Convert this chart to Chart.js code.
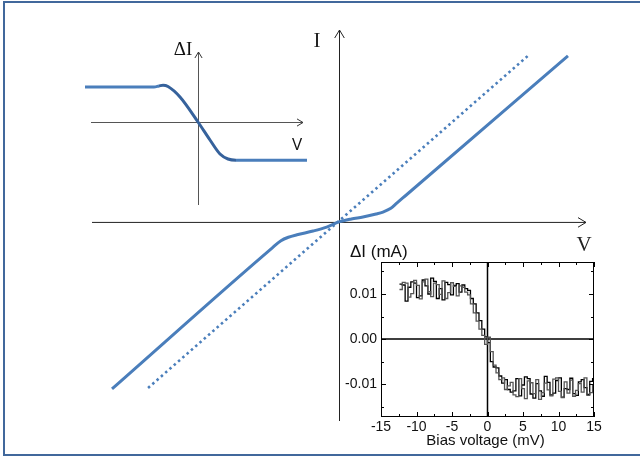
<!DOCTYPE html>
<html>
<head>
<meta charset="utf-8">
<script src="https://cdn.jsdelivr.net/npm/chart.js@4"></script>
<style>
  body { margin: 0; background: #fff; }
  #wrap { position: relative; width: 640px; height: 457px; overflow: hidden; }
  #wrap canvas { position: absolute; }
</style>
</head>
<body>
<div id="wrap">
  <canvas id="mainChart" width="640" height="457" style="left:0;top:0"></canvas>
  <canvas id="sketchChart" width="250" height="185" style="left:70px;top:30px"></canvas>
  <canvas id="dataChart" width="310" height="227" style="left:330px;top:230px"></canvas>
</div>
<script>
// I-V sketch, arbitrary units
const ivV = [-9.19, -2.7, -2.35, -2.05, -1.7, -1.05, -0.5, 0, 0.5, 0.97, 1.5, 1.78, 2.1, 2.35, 2.7, 9.27];
const ivI = [-6.76, -1.05, -0.76, -0.62, -0.52, -0.37, -0.21, 0, 0.12, 0.2, 0.32, 0.40, 0.55, 0.77, 1.07, 6.72];
const ohmicV = [-7.73, 7.69];
const ohmicI = [-6.72, 6.76];

// ΔI(V) sketch, arbitrary units
const sketchV = [-11.3, -4.4, -3.9, -3.5, -3.0, -1.8, 0, 1.2, 2.2, 3.0, 3.8, 4.9, 10.9];
const sketchI = [3.5, 3.5, 3.6, 3.68, 3.55, 2.5, 0, -1.8, -3.2, -3.7, -3.82, -3.82, -3.82];

// measured ΔI vs bias voltage (mV, mA), two sweeps
const biasV = [-12.4, -12.0, -11.6, -11.2, -10.8, -10.4, -10.0, -9.6, -9.2, -8.8, -8.4, -8.0,
  -7.6, -7.2, -6.8, -6.4, -6.0, -5.6, -5.2, -4.8, -4.4, -4.0, -3.6,
  -3.2, -2.8, -2.4, -2.0, -1.6, -1.2, -0.8, -0.4, 0.0,
  0.4, 0.8, 1.2, 1.6, 2.0, 2.4, 2.8,
  3.2, 3.6, 4.0, 4.4, 4.8, 5.2, 5.6, 6.0, 6.4, 6.8, 7.2, 7.6, 8.0, 8.4, 8.8,
  9.2, 9.6, 10.0, 10.4, 10.8, 11.2, 11.6, 12.0, 12.4, 12.8, 13.2, 13.6, 14.0, 14.4, 14.8, 15.0];
const sweepUp = [0.0122, 0.0120, 0.0084, 0.0115, 0.0127, 0.0124, 0.0092, 0.0096, 0.0131, 0.0118, 0.0100, 0.0135,
  0.0128, 0.0090, 0.0112, 0.0087, 0.0126, 0.0121, 0.0098, 0.0119, 0.0123, 0.0104, 0.0120,
  0.0112, 0.0108, 0.0090, 0.0078, 0.0058, 0.0041, 0.0022, 0.0005, -0.0008,
  -0.0050, -0.0062, -0.0064, -0.0082, -0.0098, -0.0090, -0.0112,
  -0.0118, -0.0115, -0.0088, -0.0126, -0.0102, -0.0084, -0.0088, -0.0122, -0.0131, -0.0099, -0.0115, -0.0127, -0.0083, -0.0096, -0.0124,
  -0.0120, -0.0092, -0.0086, -0.0129, -0.0110, -0.0112, -0.0087, -0.0121, -0.0125, -0.0095, -0.0090, -0.0108, -0.0123, -0.0094, -0.0088, -0.0112];
const sweepDown = [0.0110, 0.0126, 0.0124, 0.0093, 0.0101, 0.0130, 0.0119, 0.0089, 0.0127, 0.0133, 0.0105, 0.0094,
  0.0124, 0.0121, 0.0099, 0.0129, 0.0090, 0.0103, 0.0125, 0.0117, 0.0096, 0.0118, 0.0115,
  0.0104, 0.0098, 0.0078, 0.0058, 0.0040, 0.0022, 0.0008, -0.0012, 0.0004,
  -0.0028, -0.0058, -0.0075, -0.0090, -0.0086, -0.0112, -0.0104,
  -0.0096, -0.0124, -0.0128, -0.0088, -0.0110, -0.0132, -0.0093, -0.0097, -0.0121, -0.0090, -0.0134, -0.0119, -0.0098, -0.0113, -0.0126,
  -0.0089, -0.0086, -0.0116, -0.0130, -0.0095, -0.0120, -0.0091, -0.0127, -0.0114, -0.0099, -0.0118, -0.0086, -0.0125, -0.0119, -0.0101, -0.0097];

const biasTicks = [-15, -10, -5, 0, 5, 10, 15];
const biasMinor = [-12.5, -7.5, -2.5, 2.5, 7.5, 12.5];
const currentTicks = [-0.01, 0, 0.01];
const currentMinor = [-0.015, -0.005, 0.005, 0.015];

const BLUE = '#4a7ebb';
const pts = (xs, ys) => xs.map((v, i) => ({ x: v, y: ys[i] }));

function arrow(ctx, x, y, dir, s) {
  ctx.beginPath();
  if (dir === 'right') {
    ctx.moveTo(x - s, y - s * 0.6); ctx.lineTo(x, y); ctx.lineTo(x - s, y + s * 0.6);
  } else {
    ctx.moveTo(x - s * 0.6, y + s); ctx.lineTo(x, y); ctx.lineTo(x + s * 0.6, y + s);
  }
  ctx.stroke();
}

const hidden = { display: false };
const baseOptions = {
  responsive: false,
  animation: false,
  events: [],
  plugins: { legend: { display: false }, tooltip: { enabled: false } }
};

// main I-V axes with frame
const mainAxes = {
  id: 'mainAxes',
  beforeDatasetsDraw(chart) {
    const { ctx, chartArea: a, scales: { x, y } } = chart;
    const x0 = x.getPixelForValue(0), y0 = y.getPixelForValue(0);
    ctx.save();
    ctx.strokeStyle = '#41689c';
    ctx.lineWidth = 2;
    ctx.beginPath();
    ctx.moveTo(650, 2); ctx.lineTo(4, 2); ctx.lineTo(4, 455); ctx.lineTo(650, 455);
    ctx.stroke();

    ctx.strokeStyle = '#222';
    ctx.lineWidth = 1;
    ctx.beginPath();
    ctx.moveTo(a.left, y0 + 0.5); ctx.lineTo(a.right, y0 + 0.5);
    ctx.moveTo(x0 + 0.5, a.bottom); ctx.lineTo(x0 + 0.5, a.top);
    ctx.stroke();
    arrow(ctx, a.right, y0 + 0.5, 'right', 8);
    arrow(ctx, x0 + 0.5, a.top, 'up', 8);

    ctx.fillStyle = '#222';
    ctx.font = '21px "Liberation Serif"';
    ctx.textAlign = 'center';
    ctx.textBaseline = 'middle';
    ctx.fillText('I', x0 - 22, a.top + 11);
    ctx.fillText('V', a.right - 2, y0 + 24);
    ctx.restore();
  }
};

new Chart(document.getElementById('mainChart'), {
  type: 'scatter',
  data: {
    datasets: [
      { data: pts(ohmicV, ohmicI), showLine: true, borderColor: BLUE, borderWidth: 2.6,
        borderDash: [2.5, 3.2], pointRadius: 0 },
      { data: pts(ivV, ivI), showLine: true, borderColor: BLUE, borderWidth: 3,
        cubicInterpolationMode: 'monotone', pointRadius: 0 }
    ]
  },
  options: {
    ...baseOptions,
    layout: { padding: { left: 92, right: 54, top: 30, bottom: 36 } },
    scales: {
      x: { type: 'linear', min: -10, max: 10, ...hidden },
      y: { type: 'linear', min: -8.06, max: 7.77, ...hidden }
    }
  },
  plugins: [mainAxes]
});

// small ΔI(V) sketch
const sketchAxes = {
  id: 'sketchAxes',
  beforeDatasetsDraw(chart) {
    const { ctx, chartArea: a, scales: { x, y } } = chart;
    const x0 = x.getPixelForValue(0), y0 = y.getPixelForValue(0);
    ctx.save();
    ctx.strokeStyle = '#555';
    ctx.lineWidth = 1;
    ctx.beginPath();
    ctx.moveTo(x.getPixelForValue(-10.7), y0 + 0.5); ctx.lineTo(x.getPixelForValue(10.5), y0 + 0.5);
    ctx.moveTo(x0 + 0.5, a.bottom); ctx.lineTo(x0 + 0.5, a.top);
    ctx.stroke();
    ctx.strokeStyle = '#333';
    arrow(ctx, x.getPixelForValue(10.5), y0 + 0.5, 'right', 6);
    arrow(ctx, x0 + 0.5, a.top, 'up', 6);

    ctx.fillStyle = '#111';
    ctx.textAlign = 'center';
    ctx.textBaseline = 'middle';
    ctx.font = '19px "Liberation Serif"';
    ctx.fillText('ΔI', x0 - 15, a.top - 2);
    ctx.font = '17px "Open Sans"';
    ctx.fillText('V', a.right - 10, y0 + 23);
    ctx.restore();
  }
};

new Chart(document.getElementById('sketchChart'), {
  type: 'scatter',
  data: {
    datasets: [{
      data: pts(sketchV, sketchI), showLine: true, borderWidth: 3, pointRadius: 0,
      cubicInterpolationMode: 'monotone', borderColor: BLUE,
      segment: {
        borderColor: c => (c.p0DataIndex >= 2 && c.p1DataIndex <= 10) ? '#36629c' : BLUE
      }
    }]
  },
  options: {
    ...baseOptions,
    layout: { padding: { left: 15, right: 13, top: 22, bottom: 10 } },
    scales: {
      x: { type: 'linear', min: -11.3, max: 10.9, ...hidden },
      y: { type: 'linear', min: -8.3, max: 7.0, ...hidden }
    }
  },
  plugins: [sketchAxes]
});

// measured data panel: frame, zero lines, inward ticks, labels
const dataFrame = {
  id: 'dataFrame',
  beforeDatasetsDraw(chart) {
    const { ctx, chartArea: a, scales: { x, y } } = chart;
    ctx.save();
    ctx.strokeStyle = '#000';
    ctx.lineWidth = 1.5;
    ctx.beginPath();
    ctx.moveTo(a.left, y.getPixelForValue(0)); ctx.lineTo(a.right, y.getPixelForValue(0));
    ctx.moveTo(x.getPixelForValue(0), a.top); ctx.lineTo(x.getPixelForValue(0), a.bottom);
    ctx.stroke();
    ctx.restore();
  },
  afterDatasetsDraw(chart) {
    const { ctx, chartArea: a, scales: { x, y } } = chart;
    ctx.save();
    ctx.strokeStyle = '#000';
    ctx.lineWidth = 1;
    ctx.strokeRect(a.left + 0.5, a.top + 0.5, a.right - a.left - 1, a.bottom - a.top - 1);

    ctx.beginPath();
    const xTick = (v, len) => {
      const px = Math.round(x.getPixelForValue(v)) + 0.5;
      ctx.moveTo(px, a.bottom); ctx.lineTo(px, a.bottom - len);
      ctx.moveTo(px, a.top); ctx.lineTo(px, a.top + len);
    };
    const yTick = (v, len) => {
      const py = Math.round(y.getPixelForValue(v)) + 0.5;
      ctx.moveTo(a.left, py); ctx.lineTo(a.left + len, py);
      ctx.moveTo(a.right, py); ctx.lineTo(a.right - len, py);
    };
    biasTicks.forEach(v => xTick(v, 5));
    biasMinor.forEach(v => xTick(v, 3));
    currentTicks.forEach(v => yTick(v, 5));
    currentMinor.forEach(v => yTick(v, 3));
    ctx.stroke();

    ctx.fillStyle = '#111';
    ctx.font = '14px "Liberation Sans"';
    ctx.textAlign = 'right';
    ctx.textBaseline = 'middle';
    currentTicks.forEach(v => ctx.fillText(v.toFixed(2), a.left - 4, y.getPixelForValue(v)));
    ctx.textAlign = 'center';
    ctx.textBaseline = 'top';
    biasTicks.forEach(v => ctx.fillText(String(v), x.getPixelForValue(v), a.bottom + 3));

    ctx.textBaseline = 'middle';
    ctx.font = '15px "Liberation Sans"';
    ctx.fillText('Bias voltage (mV)', x.getPixelForValue(0) - 2, a.bottom + 24);
    ctx.textAlign = 'left';
    ctx.font = '17px "Liberation Sans"';
    ctx.fillText('ΔI (mA)', a.left - 31, a.top - 10);
    ctx.restore();
  }
};

new Chart(document.getElementById('dataChart'), {
  type: 'scatter',
  data: {
    datasets: [
      { data: pts(biasV, sweepDown), showLine: true, stepped: true, borderColor: '#555',
        borderWidth: 1.3, pointRadius: 0 },
      { data: pts(biasV, sweepUp), showLine: true, stepped: true, borderColor: '#000',
        borderWidth: 1.3, pointRadius: 0 }
    ]
  },
  options: {
    ...baseOptions,
    layout: { padding: { left: 51, right: 46, top: 32, bottom: 40 } },
    scales: {
      x: { type: 'linear', min: -15, max: 15, ...hidden },
      y: { type: 'linear', min: -0.0173, max: 0.0171, ...hidden }
    }
  },
  plugins: [dataFrame]
});
</script>
</body>
</html>
